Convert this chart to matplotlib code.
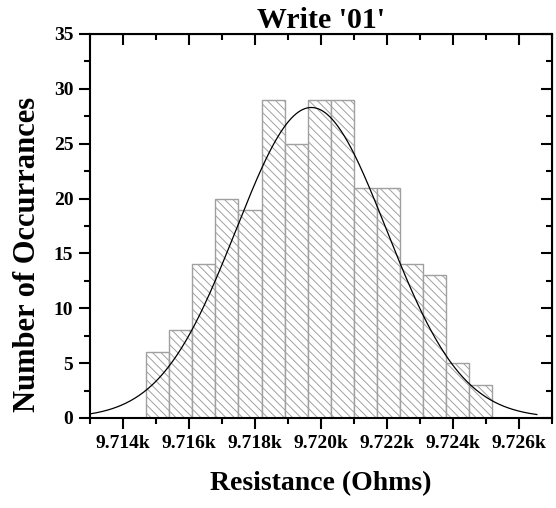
import numpy as np
import matplotlib
matplotlib.use("Agg")
import matplotlib.pyplot as plt
from matplotlib.ticker import MultipleLocator, FuncFormatter

plt.rcParams['font.family'] = ['Liberation Serif', 'DejaVu Serif']
plt.rcParams['font.weight'] = 'bold'
plt.rcParams['hatch.color'] = '#9a9a9a'
plt.rcParams['hatch.linewidth'] = 0.7

# histogram data (ohms), bin width 0.7
bin_start = 9714.7
bin_width = 0.7
counts = [6, 8, 14, 20, 19, 29, 25, 29, 29, 21, 21, 14, 13, 5, 3]

# normal fit
fit_mean = 9719.71
fit_sigma = 2.28
fit_peak = 28.3
fit_range = (9713.0, 9726.55)

edges = bin_start + bin_width * np.arange(len(counts))

fig = plt.figure(figsize=(5.56, 5.08), dpi=100)
ax = fig.add_axes([0.1619, 0.1772, 0.9923 - 0.1619, 0.9331 - 0.1772])

ax.bar(edges, counts, width=bin_width, align='edge', color='white',
       edgecolor='#a0a0a0', linewidth=1.0, hatch='\\\\\\\\')

xf = np.linspace(fit_range[0], fit_range[1], 400)
yf = fit_peak * np.exp(-0.5 * ((xf - fit_mean) / fit_sigma) ** 2)
ax.plot(xf, yf, color='black', linewidth=0.9)

ax.set_xlim(9713, 9727)
ax.set_ylim(0, 35)
ax.xaxis.set_major_locator(MultipleLocator(2))
ax.xaxis.set_minor_locator(MultipleLocator(1))
ax.yaxis.set_major_locator(MultipleLocator(5))
ax.yaxis.set_minor_locator(MultipleLocator(2.5))
ax.xaxis.set_major_formatter(FuncFormatter(lambda v, p: "%.3fk" % (v / 1000)))

for s in ax.spines.values():
    s.set_linewidth(1.5)

ax.tick_params(which='both', direction='out', width=1.5, labelsize=14, pad=4)
ax.tick_params(which='major', length=8)
ax.tick_params(which='minor', length=4.5)

# mirrored inward ticks on top and right
axt = ax.secondary_xaxis('top')
axt.xaxis.set_major_locator(MultipleLocator(2))
axt.xaxis.set_minor_locator(MultipleLocator(1))
axt.tick_params(which='both', direction='in', width=1.5, labeltop=False)
axt.tick_params(which='major', length=8)
axt.tick_params(which='minor', length=4.5)
axr = ax.secondary_yaxis('right')
axr.yaxis.set_major_locator(MultipleLocator(5))
axr.yaxis.set_minor_locator(MultipleLocator(2.5))
axr.tick_params(which='both', direction='in', width=1.5, labelright=False)
axr.tick_params(which='major', length=8)
axr.tick_params(which='minor', length=4.5)

ax.set_title("Write '01'", fontsize=21.5, fontweight='bold', pad=4)
ax.set_xlabel("Resistance (Ohms)", fontsize=20, fontweight='bold', labelpad=14)
ax.set_ylabel("Number of Occurrances", fontsize=22, fontweight='bold')
ax.yaxis.set_label_coords(-0.105, 0.427)

fig.savefig("out.png", dpi=100)
